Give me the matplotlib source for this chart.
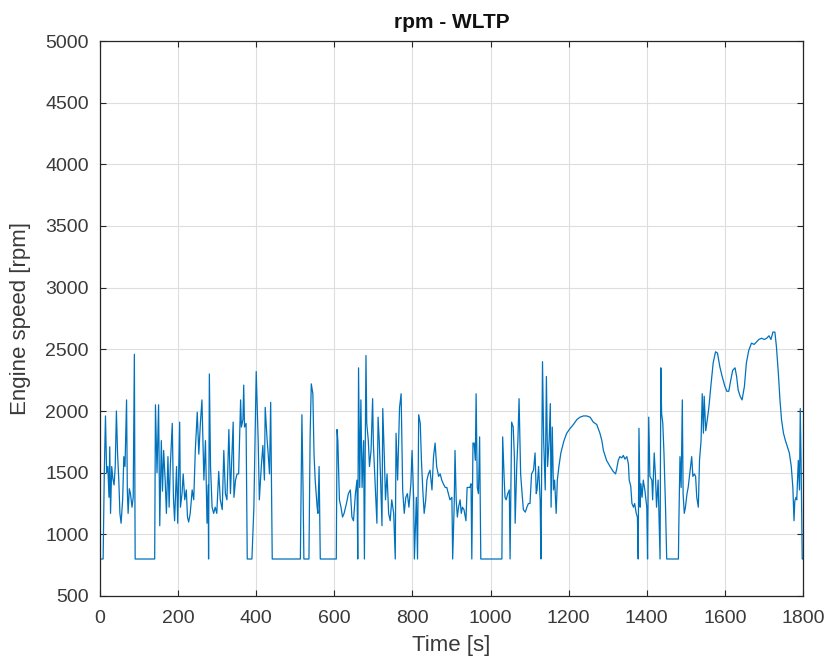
import matplotlib
matplotlib.use("Agg")
import matplotlib.pyplot as plt

# Time [s] and engine speed [rpm]
time_s = [
    0, 8, 11, 14, 17, 20, 23, 25, 27, 30, 33, 36, 39, 42, 45, 48, 51, 54, 58, 61,
    64, 68, 70, 72, 75, 78, 82, 85, 88, 90, 140, 142, 146, 150, 153, 157, 160, 163, 167, 170,
    174, 177, 180, 185, 188, 191, 196, 199, 204, 206, 210, 213, 217, 221, 224, 227, 231, 236, 240, 244,
    249, 253, 257, 261, 266, 270, 274, 277, 278, 280, 283, 287, 291, 295, 299, 304, 308, 313, 317, 321,
    325, 330, 334, 336, 341, 343, 347, 351, 355, 360, 362, 366, 368, 370, 374, 377, 389, 394, 400, 405,
    408, 413, 417, 421, 423, 428, 430, 434, 437, 441, 513, 517, 520, 522, 535, 538, 541, 545, 548, 551,
    556, 558, 561, 564, 605, 607, 609, 613, 617, 621, 625, 631, 636, 641, 645, 649, 654, 658, 660, 662,
    665, 668, 671, 675, 677, 681, 683, 687, 690, 694, 698, 700, 705, 709, 712, 715, 718, 722, 724, 728,
    731, 735, 739, 743, 747, 752, 756, 758, 762, 767, 771, 775, 779, 783, 787, 791, 796, 799, 803, 805,
    810, 813, 816, 820, 823, 827, 830, 834, 837, 841, 845, 850, 854, 858, 862, 867, 871, 875, 879, 884,
    888, 892, 896, 901, 903, 907, 909, 912, 915, 918, 922, 925, 928, 932, 937, 940, 947, 950, 952, 955,
    958, 961, 963, 966, 969, 972, 975, 1029, 1031, 1035, 1037, 1040, 1044, 1048, 1050, 1054, 1058, 1061, 1063, 1067,
    1070, 1073, 1077, 1080, 1084, 1089, 1093, 1097, 1101, 1105, 1110, 1114, 1117, 1119, 1123, 1127, 1129, 1133, 1136, 1140,
    1143, 1146, 1150, 1153, 1155, 1158, 1161, 1164, 1168, 1171, 1175, 1180, 1184, 1188, 1195, 1204, 1212, 1221, 1229, 1238,
    1246, 1255, 1263, 1272, 1280, 1285, 1289, 1297, 1306, 1314, 1320, 1323, 1327, 1331, 1336, 1340, 1344, 1349, 1353, 1355,
    1359, 1362, 1366, 1369, 1373, 1376, 1378, 1380, 1383, 1385, 1388, 1391, 1395, 1400, 1402, 1405, 1408, 1413, 1415, 1419,
    1422, 1425, 1429, 1434, 1436, 1438, 1441, 1444, 1448, 1451, 1481, 1482, 1485, 1488, 1491, 1493, 1496, 1499, 1503, 1506,
    1510, 1515, 1518, 1522, 1525, 1528, 1532, 1535, 1539, 1542, 1545, 1547, 1551, 1555, 1559, 1564, 1570, 1576, 1581, 1587,
    1593, 1600, 1605, 1610, 1615, 1620, 1626, 1630, 1634, 1639, 1644, 1650, 1655, 1661, 1668, 1675, 1681, 1687, 1694, 1701,
    1707, 1713, 1718, 1723, 1728, 1732, 1737, 1741, 1745, 1750, 1755, 1760, 1765, 1770, 1774, 1777, 1779, 1782, 1784, 1788,
    1791, 1793, 1795, 1798, 1800,
]
rpm = [
    800, 800, 1500, 1960, 1500, 1550, 1300, 1710, 1170, 1550, 1450, 1400, 1550, 2000, 1650, 1450, 1170, 1090, 1280, 1630,
    1550, 2090, 1350, 1170, 1370, 1330, 1220, 1300, 2460, 800, 800, 2050, 1500, 2050, 1070, 1760, 1350, 1680, 1430, 1170,
    1630, 1220, 1550, 1900, 1300, 1110, 1550, 1090, 1910, 1220, 1330, 1490, 1280, 1360, 1140, 1100, 1170, 1360, 1280, 1680,
    1990, 1650, 1900, 2090, 1440, 1760, 1090, 1400, 800, 2300, 1550, 1220, 1170, 1220, 1170, 1510, 1280, 1200, 1680, 1330,
    1280, 1850, 1330, 1490, 1910, 1300, 1440, 1490, 1490, 2090, 1870, 1930, 2210, 1870, 1900, 800, 800, 1220, 2320, 1760,
    1280, 1550, 1720, 1440, 2030, 1760, 1680, 1490, 2070, 800, 800, 1970, 1350, 800, 800, 1800, 2220, 2140, 1650, 1440,
    1220, 1170, 1550, 800, 800, 1850, 1760, 1280, 1220, 1140, 1170, 1250, 1330, 1360, 1140, 1110, 1330, 1440, 800, 2350,
    1380, 2090, 1380, 1760, 800, 2450, 1900, 1760, 1550, 1680, 2100, 1730, 1380, 1090, 1950, 1760, 1490, 1070, 2020, 1630,
    1280, 1490, 1170, 1110, 1280, 1170, 800, 1820, 1440, 2030, 2140, 1360, 1170, 1300, 1330, 1220, 1410, 1680, 1300, 800,
    1300, 800, 1970, 1900, 1600, 1330, 1170, 1280, 1440, 1490, 1520, 1360, 1630, 1740, 1550, 1470, 1490, 1440, 1410, 1380,
    1380, 1330, 1280, 1300, 800, 1250, 1680, 1280, 1140, 1220, 1280, 1170, 1220, 1200, 1110, 1380, 1380, 1410, 800, 1740,
    1740, 1600, 2140, 1380, 1330, 1790, 800, 800, 1790, 1440, 1300, 1280, 1330, 1360, 800, 1910, 1870, 1630, 1090, 1550,
    1760, 2100, 1490, 1360, 1200, 1180, 1220, 1250, 1250, 1490, 1520, 1660, 1330, 1360, 1550, 1280, 800, 2400, 1760, 1360,
    2280, 1550, 1760, 2060, 1220, 1870, 1360, 1440, 1170, 1440, 1550, 1660, 1710, 1760, 1820, 1860, 1890, 1930, 1950, 1960,
    1960, 1950, 1910, 1890, 1820, 1760, 1680, 1600, 1550, 1510, 1490, 1530, 1600, 1630, 1620, 1640, 1610, 1630, 1570, 1440,
    1390, 1250, 1220, 1250, 1170, 1140, 800, 1860, 1220, 1410, 1300, 1440, 1360, 1220, 800, 1950, 1470, 1440, 1280, 1660,
    1490, 1220, 1440, 800, 2350, 1980, 1900, 1660, 1220, 800, 800, 1060, 1630, 1380, 2090, 1330, 1170, 1220, 1330, 1380,
    1490, 1630, 1470, 1490, 1470, 1300, 1220, 1600, 1760, 2140, 1820, 2120, 1840, 1930, 2030, 2200, 2390, 2480, 2470, 2360,
    2280, 2200, 2160, 2160, 2250, 2330, 2350, 2280, 2170, 2120, 2090, 2200, 2390, 2490, 2550, 2540, 2560, 2580, 2590, 2580,
    2590, 2610, 2580, 2640, 2640, 2520, 2300, 2090, 1930, 1820, 1760, 1710, 1660, 1550, 1380, 1110, 1270, 1300, 1280, 1600,
    1360, 2020, 1600, 800, 800,
]

x_ticks = [0, 200, 400, 600, 800, 1000, 1200, 1400, 1600, 1800]
y_ticks = [500, 1000, 1500, 2000, 2500, 3000, 3500, 4000, 4500, 5000]

plt.rcParams['font.family'] = ['Liberation Sans', 'DejaVu Sans']

fig = plt.figure(figsize=(8.31, 6.66), dpi=100)
ax = fig.add_axes([100 / 831, 1 - 596 / 666, 703 / 831, 555 / 666])

ax.plot(time_s, rpm, color='#0072BD', linewidth=0.9)

ax.set_xlim(0, 1800)
ax.set_ylim(500, 5000)
ax.set_xticks(x_ticks)
ax.set_yticks(y_ticks)
ax.grid(True, color='#DEDEDE', linewidth=0.8)
ax.set_axisbelow(True)

for sp in ax.spines.values():
    sp.set_color('#262626')
    sp.set_linewidth(0.9)

ax.tick_params(axis='both', direction='in', top=True, right=True, length=4,
               width=0.8, color='#262626', labelsize=14, labelcolor='#3a3a3a')
ax.tick_params(axis='x', pad=10)
ax.tick_params(axis='y', pad=8)

ax.set_xlabel('Time [s]', fontsize=16, color='#3a3a3a', labelpad=6)
ax.set_ylabel('Engine speed [rpm]', fontsize=16, color='#3a3a3a', labelpad=10)
ax.set_title('rpm - WLTP', fontsize=15, fontweight='bold', color='#111111', pad=9)

fig.savefig('out.png', dpi=100, facecolor='white')
